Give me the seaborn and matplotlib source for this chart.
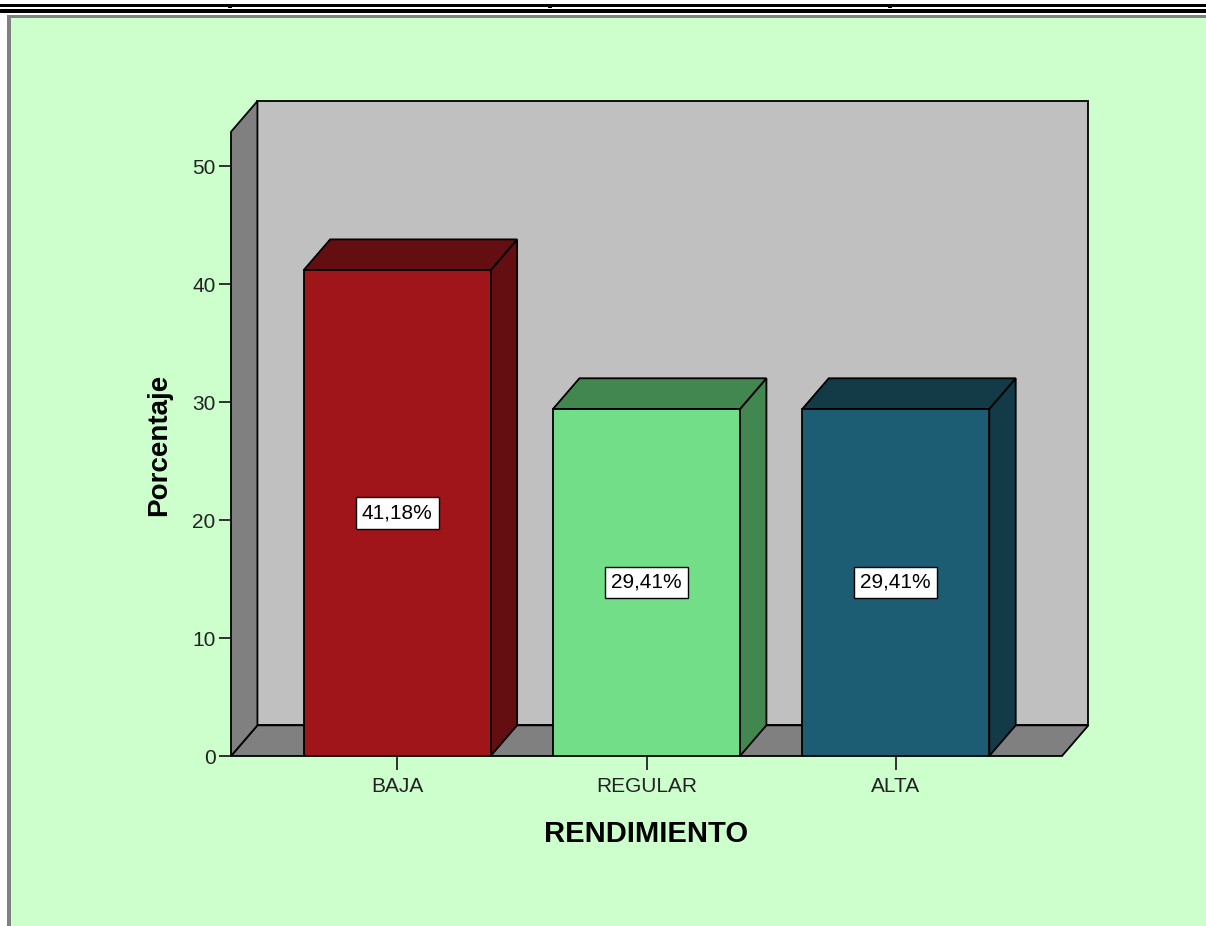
import matplotlib
matplotlib.use("Agg")
import matplotlib.pyplot as plt
from matplotlib.patches import Polygon, Rectangle
import seaborn as sns

categorias = ["BAJA", "REGULAR", "ALTA"]
porcentajes = [41.18, 29.41, 29.41]
etiquetas = ["41,18%", "29,41%", "29,41%"]
colores_frente = ["#A0151A", "#72DE88", "#1C5D74"]
colores_lado = ["#650E12", "#438750", "#123A47"]
y_ticks = [0, 10, 20, 30, 40, 50]

W, H = 1206, 926


def fx(x):
    return x / W


def fy(y):
    return 1 - y / H


sns.set_style("white")
plt.rcParams["font.family"] = ["Liberation Sans", "DejaVu Sans"]

fig = plt.figure(figsize=(W / 100, H / 100), dpi=100, facecolor="white")

# marco verde estilo SPSS
fig.add_artist(Rectangle((fx(7), 0), 1 - fx(7), fy(15), transform=fig.transFigure,
                         facecolor="#808080", edgecolor="none", zorder=-10))
fig.add_artist(Rectangle((fx(11), 0), 1 - fx(11), fy(18), transform=fig.transFigure,
                         facecolor="#CCFFCC", edgecolor="none", zorder=-9))
# doble linea superior
fig.add_artist(Rectangle((0, fy(6.5)), 1, 2.5 / H, transform=fig.transFigure,
                         facecolor="black", edgecolor="none"))
fig.add_artist(Rectangle((0, fy(12.5)), 1, 3.5 / H, transform=fig.transFigure,
                         facecolor="black", edgecolor="none"))
for xm in [228, 548, 888]:
    fig.add_artist(Rectangle((fx(xm), fy(8)), 4 / W, 2 / H, transform=fig.transFigure,
                             facecolor="black", edgecolor="none"))

ax = fig.add_axes([fx(231), fy(756), fx(1062) - fx(231), fy(166) - fy(756)])
ax.set_facecolor("none")

sns.barplot(x=categorias, y=porcentajes, hue=categorias, palette=colores_frente,
            saturation=1, width=0.75, edgecolor="black", linewidth=1.3,
            legend=False, ax=ax, zorder=3)
barras = list(ax.patches)

x0, x1 = -2 / 3, 8 / 3
ax.set_xlim(x0, x1)
ax.set_ylim(0, 50)

dx, dy = 0.106, 2.6
ytop = 52.9
lw = 1.3

# pared del fondo, piso y pared izquierda
ax.add_patch(Rectangle((x0 + dx, dy), x1 - x0, ytop, facecolor="#C0C0C0",
                       edgecolor="black", linewidth=lw, zorder=0.5, clip_on=False))
ax.add_patch(Polygon([(x0, 0), (x1, 0), (x1 + dx, dy), (x0 + dx, dy)], closed=True,
                     facecolor="#808080", edgecolor="black", linewidth=lw,
                     zorder=0.6, clip_on=False))
ax.add_patch(Polygon([(x0, 0), (x0, ytop), (x0 + dx, ytop + dy), (x0 + dx, dy)],
                     closed=True, facecolor="#808080", edgecolor="black",
                     linewidth=lw, zorder=0.7, clip_on=False))

# caras laterales y superiores de las barras
for barra, lado, etiqueta in zip(barras, colores_lado, etiquetas):
    bx = barra.get_x()
    bw = barra.get_width()
    bh = barra.get_height()
    ax.add_patch(Polygon([(bx + bw, 0), (bx + bw, bh), (bx + bw + dx, bh + dy),
                          (bx + bw + dx, dy)], closed=True, facecolor=lado,
                         edgecolor="black", linewidth=lw, zorder=2.5, clip_on=False))
    ax.add_patch(Polygon([(bx, bh), (bx + bw, bh), (bx + bw + dx, bh + dy),
                          (bx + dx, bh + dy)], closed=True, facecolor=lado,
                         edgecolor="black", linewidth=lw, zorder=2.5, clip_on=False))
    ax.text(bx + bw / 2, bh / 2, etiqueta, ha="center", va="center", fontsize=15,
            color="black", zorder=5,
            bbox=dict(boxstyle="square,pad=0.3", facecolor="white",
                      edgecolor="black", linewidth=1))

for s in ax.spines.values():
    s.set_visible(False)

ax.set_yticks(y_ticks)
ax.tick_params(axis="y", length=9, width=1.3, pad=2, labelsize=15,
               colors="#222222", left=True)
ax.tick_params(axis="x", length=10, width=1.3, pad=5, labelsize=15,
               colors="#222222", bottom=True)

ax.set_ylabel("Porcentaje", fontsize=20, fontweight="bold", color="black")
ax.yaxis.set_label_coords(-0.071, 0.527)
ax.set_xlabel("RENDIMIENTO", fontsize=21, fontweight="bold", color="black")
ax.xaxis.set_label_coords(0.5, -0.108)

fig.savefig("out.png", dpi=100, facecolor=fig.get_facecolor())
